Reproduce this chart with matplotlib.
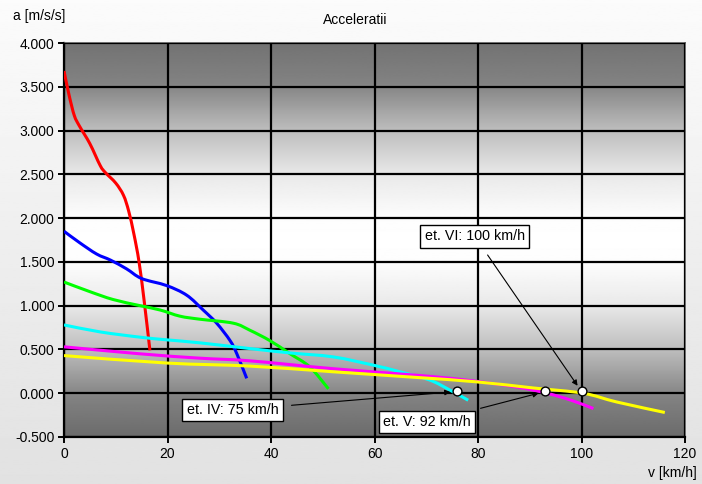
import numpy as np
import matplotlib
matplotlib.use("Agg")
import matplotlib.pyplot as plt
from matplotlib.path import Path
from matplotlib.patches import PathPatch

plt.rcParams['font.family'] = ['Liberation Sans', 'DejaVu Sans']

# gear curves: speed [km/h] vs acceleration [m/s/s]
v1 = [0, 1, 2, 3, 5, 7, 8, 10, 11.5, 12.5, 13.5, 14.5, 15.5, 16.6]
a1 = [3.68, 3.4, 3.17, 3.05, 2.85, 2.6, 2.52, 2.4, 2.26, 2.08, 1.82, 1.5, 1.05, 0.49]

v2 = [0, 3, 6.3, 9, 12.1, 15.0, 19.8, 23.7, 26.9, 29.5, 32.1, 33.4, 35.3]
a2 = [1.85, 1.72, 1.59, 1.52, 1.42, 1.31, 1.23, 1.12, 0.95, 0.80, 0.60, 0.45, 0.17]

v3 = [0, 5.0, 9.5, 14.7, 18.6, 22.4, 26.3, 32.7, 35.9, 39.8, 43.7, 47.5, 51.1]
a3 = [1.27, 1.16, 1.07, 1.00, 0.95, 0.88, 0.845, 0.80, 0.72, 0.60, 0.45, 0.30, 0.05]

v4 = [0, 7.0, 14.7, 19.8, 26.3, 35.9, 43.7, 52, 59.8, 64.9, 70.7, 74.6, 78.1]
a4 = [0.78, 0.70, 0.64, 0.61, 0.575, 0.51, 0.46, 0.415, 0.32, 0.245, 0.15, 0.035, -0.08]

v5 = [0, 14.7, 26.3, 35.9, 52, 68.2, 77.8, 87.5, 93.3, 98, 102.3]
a5 = [0.53, 0.45, 0.40, 0.37, 0.28, 0.205, 0.15, 0.07, 0.0, -0.08, -0.175]

v6 = [0, 19.8, 35.9, 52, 68.2, 79.7, 90.7, 100.3, 106.8, 116.1]
a6 = [0.43, 0.345, 0.31, 0.245, 0.18, 0.13, 0.06, 0.0, -0.1, -0.22]

colors = ['#ff0000', '#0000ff', '#00ff00', '#00ffff', '#ff00ff', '#ffff00']

# top speed markers
top_v = [76, 93, 100]
top_a = [0.02, 0.02, 0.02]
top_labels = ['et. IV: 75 km/h', 'et. V: 92 km/h', 'et. VI: 100 km/h']
label_pos = [(23.7, -0.194), (61.7, -0.331), (69.7, 1.792)]


def smooth_path(x, y, k=1 / 6):
    # Excel-style smoothed line: Bezier segments through the points
    p = np.column_stack([x, y]).astype(float)
    n = len(p)
    verts = [p[0]]
    codes = [Path.MOVETO]
    for i in range(n - 1):
        p0 = p[i - 1] if i > 0 else p[i]
        p3 = p[i + 2] if i + 2 < n else p[i + 1]
        c1 = p[i] + (p[i + 1] - p0) * k
        c2 = p[i + 1] - (p3 - p[i]) * k
        verts += [c1, c2, p[i + 1]]
        codes += [Path.CURVE4] * 3
    return Path(verts, codes)


fig = plt.figure(figsize=(7.02, 4.84), dpi=100)

# figure background gradient
bg = fig.add_axes([0, 0, 1, 1], zorder=-10)
bg.imshow(np.linspace(0.985, 0.885, 256).reshape(-1, 1), cmap='gray', vmin=0, vmax=1,
          aspect='auto', extent=[0, 1, 0, 1])
bg.axis('off')

ax = fig.add_axes([64 / 702, 1 - 437 / 484, 621 / 702, 394 / 484])

# plot area gradient: dark - white - dark
stops = [(0.0, 0.45), (0.1, 0.51), (0.22, 0.74), (0.33, 0.91), (0.44, 0.99),
         (0.5, 1.0), (0.56, 0.99), (0.67, 0.91), (0.78, 0.74), (0.9, 0.51), (1.0, 0.42)]
f = np.linspace(0, 1, 400)
g = np.interp(f, [s[0] for s in stops], [s[1] for s in stops])
ax.imshow(g.reshape(-1, 1), cmap='gray', vmin=0, vmax=1, aspect='auto',
          extent=[0, 120, -0.5, 4.0], zorder=0)

ax.set_xlim(0, 120)
ax.set_ylim(-0.5, 4.0)
ax.set_xticks(np.arange(0, 121, 20))
yt = np.arange(-0.5, 4.01, 0.5)
ax.set_yticks(yt)
ax.set_yticklabels([f"{t:.3f}" for t in yt])
ax.grid(True, color='black', linewidth=1.6, zorder=1)
ax.set_axisbelow(False)
for s in ax.spines.values():
    s.set_color('#555555')
    s.set_linewidth(1.2)
for side in ['left', 'bottom']:
    ax.spines[side].set_color('black')
    ax.spines[side].set_linewidth(1.6)
ax.tick_params(direction='out', length=4, width=1.4, labelsize=10, colors='black', pad=3)

for v, a, c in zip([v1, v2, v3, v4, v5, v6], [a1, a2, a3, a4, a5, a6], colors):
    ax.add_patch(PathPatch(smooth_path(v, a), fill=False, edgecolor=c,
                           linewidth=2.2, capstyle='butt', zorder=3))

ax.scatter(top_v, top_a, s=40, facecolor='white', edgecolor='black', linewidth=1, zorder=5)

for x, y, lab, (tx, ty) in zip(top_v, top_a, top_labels, label_pos):
    ax.annotate(lab, xy=(x, y), xytext=(tx, ty), fontsize=10.3, zorder=6,
                ha='left', va='center',
                bbox=dict(boxstyle='square,pad=0.3', fc='white', ec='black', lw=1),
                arrowprops=dict(arrowstyle='-|>', color='black', lw=0.8,
                                mutation_scale=8, shrinkA=6, shrinkB=5))

fig.text(355 / 702, 1 - 20 / 484, 'Acceleratii', ha='center', va='center', fontsize=10)
fig.text(13 / 702, 1 - 16 / 484, 'a [m/s/s]', ha='left', va='center', fontsize=10)
fig.text(697 / 702, 1 - 473 / 484, 'v [km/h]', ha='right', va='center', fontsize=10)

fig.savefig('out.png', dpi=100)
